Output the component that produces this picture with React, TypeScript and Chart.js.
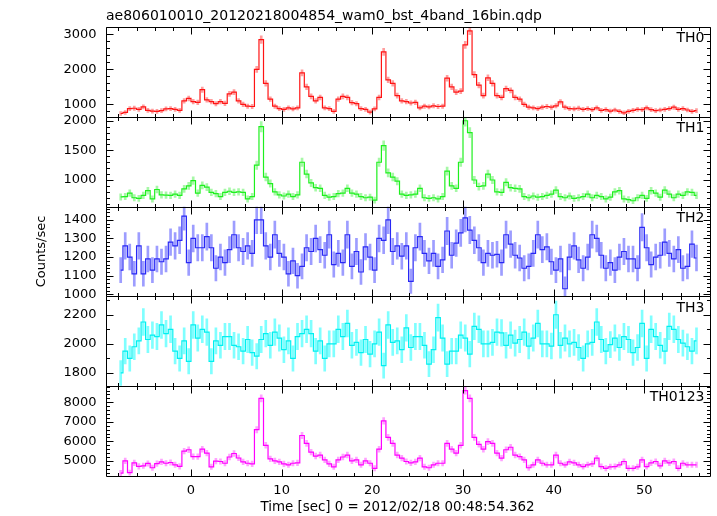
import React, { useEffect, useRef } from "react";
import { Chart, registerables } from "chart.js";

Chart.register(...registerables);

const TITLE = "ae806010010_20120218004854_wam0_bst_4band_16bin.qdp";
const X_TITLE = "Time [sec] 0 = 2012/02/18 00:48:54.362";
const Y_TITLE = "Counts/sec";

const BIN_START = -7.75;
const BIN_WIDTH = 0.5;
const ERR_DT = 0.25;

const TH0 = [
  740, 770, 880, 890, 860, 930, 830, 810, 800, 820,
  870, 880, 860, 830, 1100, 1170, 1080, 1060, 1420, 1130,
  1080, 1020, 1080, 1030, 1300, 1350, 1100, 1000, 950, 940,
  2000, 2850, 1600, 1150, 950, 880, 860, 900, 870, 900,
  1900, 1500, 1230, 1100, 1200, 900, 880, 800, 1150, 1230,
  1200, 1050, 1020, 880, 860, 780, 870, 1200, 2500, 1700,
  1600, 1250, 1100, 1080, 1040, 1060, 900, 950, 930, 960,
  940, 950, 1750, 1500, 1350, 1380, 2700, 3100, 1850, 1550,
  1250, 1760, 1600, 1250, 1200, 1450, 1400, 1200, 1150, 1000,
  920, 900, 880, 920, 940, 920, 960, 1070, 920, 880,
  870, 890, 860, 880, 850, 900, 830, 850, 810, 840,
  800, 760, 800, 830, 860, 850, 900, 850, 820, 840,
  860, 880, 920, 860, 880, 840, 800, 820,
];

const TH1 = [
  715, 720, 780, 700, 690, 740, 820, 680, 840, 750,
  745, 740, 760, 740, 850, 900, 990, 780, 910, 880,
  790, 770, 720, 790, 810, 790, 800, 790, 680, 720,
  1250, 1900, 1050, 940, 800, 750, 730, 760, 720, 750,
  1300, 1100, 950, 870, 860, 740, 710, 720, 770, 780,
  860, 780, 760, 720, 700, 710, 660, 1300, 1580, 1120,
  1050, 980, 760, 740, 750, 760, 860, 700, 690, 700,
  680, 720, 1150, 900, 860, 1300, 2000, 1800, 1000, 890,
  900, 1100, 1000, 800, 790, 960, 870, 860, 850, 720,
  700, 730, 710, 720, 740, 760, 830, 720, 700, 730,
  690, 700, 720, 760, 700, 740, 720, 680, 710, 800,
  820, 680, 670, 650, 700, 740, 690, 820, 780, 710,
  830, 760, 700, 760, 740, 800, 790, 740,
];

const TH2 = [
  1130, 1260, 1200, 1110, 1260, 1110, 1190, 1130, 1190, 1175,
  1190, 1280, 1260, 1290, 1420, 1170, 1300, 1250, 1250, 1310,
  1250, 1140, 1200, 1170, 1240, 1320, 1250, 1230, 1260, 1220,
  1400, 1400, 1260, 1200, 1320, 1220, 1200, 1110, 1180, 1100,
  1150, 1250, 1230, 1300, 1240, 1210, 1320, 1160, 1220, 1170,
  1320, 1150, 1230, 1120, 1255, 1200, 1130, 1300, 1290, 1400,
  1230, 1260, 1205, 1260, 1070, 1250, 1310, 1220, 1180, 1220,
  1150, 1185, 1340, 1210, 1275, 1330, 1410, 1345, 1290, 1250,
  1170, 1220, 1210, 1215, 1170, 1320, 1270, 1210, 1195, 1140,
  1150, 1220, 1320, 1240, 1255, 1175, 1130, 1190, 1030, 1200,
  1260, 1185, 1140, 1200, 1320, 1300, 1210, 1140, 1170, 1130,
  1200, 1230, 1190, 1190, 1140, 1360, 1250, 1160, 1200, 1210,
  1280, 1220, 1190, 1240, 1140, 1150, 1270, 1195,
];

const TH3 = [
  1800, 1950, 1900, 1980, 2020, 2150, 2030, 2060, 2050, 2130,
  2070, 2100, 1950, 1900, 2020, 1880, 2130, 2040, 2100, 2080,
  1880, 2020, 1990, 2050, 2050, 1990, 1980, 1950, 2030, 1940,
  1915, 2030, 2070, 1990, 2080, 2040, 1960, 2020, 1900, 2050,
  2070, 2100, 2070, 1950, 2020, 1900, 2000, 2000, 2100, 2050,
  2140, 1990, 2010, 1940, 2030, 1930, 2000, 2080, 1850, 2130,
  2010, 2020, 1960, 2110, 1975, 2050, 2050, 1990, 1860, 1960,
  2180, 2040, 1860, 1950, 1950, 2060, 2040, 1930, 2120, 2100,
  2000, 2000, 2010, 2080, 2075, 1990, 2060, 2005, 2030, 2080,
  1985, 2040, 2140, 2000, 2000, 1985, 2200, 1990, 2040, 2000,
  2010, 1975, 1900, 2000, 2010, 2150, 2030, 1950, 1995, 2040,
  1975, 2050, 2030, 1940, 1975, 2140, 1900, 2100, 2050, 1990,
  1950, 2120, 2100, 2030, 2005, 1980, 1950, 2020,
];

const TH0123 = [
  4380, 5000, 4400, 4900, 4720, 4750, 4870, 4650, 4860, 4950,
  4880, 4920, 4800, 4720, 5500, 5570, 5220, 5220, 5600, 5400,
  4700, 4990, 4970, 4880, 5200, 5380, 5150, 4950, 4880, 4850,
  6600, 8200, 5800, 5100, 5000, 4950, 4850, 4800, 4880, 4900,
  6300, 5900, 5450, 5250, 5300, 5050, 4850, 4700, 5050, 5200,
  5300, 5000, 5050, 4800, 5000, 4880, 4620, 5600, 7050, 6200,
  5900, 5300, 5140, 4970, 4900, 4950, 5140, 4700, 4650, 4800,
  4880, 4880, 5900, 5600, 5400, 5800, 8600, 8200, 6200, 5850,
  5600, 5990, 5900, 5400, 5140, 5570, 5700, 5300, 5220, 5050,
  4650, 4800, 5050, 4880, 4800, 4800, 5300, 4880, 4800, 4950,
  4900, 4800, 4710, 4800, 4850, 5140, 4710, 4620, 4700, 4710,
  4800, 4970, 4620, 4620, 4700, 5050, 4710, 4900, 4970, 4750,
  5000, 4900, 4970, 4620, 4880, 4800, 4800, 4800,
];

const X_TICKS = [0, 10, 20, 30, 40, 50];
const TH0_TICKS = [1000, 2000, 3000];
const TH1_TICKS = [1000, 1500, 2000];
const TH2_TICKS = [1000, 1100, 1200, 1300, 1400];
const TH3_TICKS = [1800, 2000, 2200];
const TH0123_TICKS = [5000, 6000, 7000, 8000];

const FONT = "'DejaVu Sans', 'Liberation Sans', Arial, sans-serif";

// bottom panel first (Chart.js stacks later-defined left axes on top)
const PANELS = [
  { id: "yTH0123", name: "TH0123", values: TH0123, ticks: TH0123_TICKS, minor: 200, min: 4228, max: 8823, line: "rgb(255,0,255)", err: "rgba(255,50,255,0.45)" },
  { id: "yTH3", name: "TH3", values: TH3, ticks: TH3_TICKS, minor: 100, min: 1709, max: 2326, line: "rgb(0,240,240)", err: "rgba(0,255,255,0.5)" },
  { id: "yTH2", name: "TH2", values: TH2, ticks: TH2_TICKS, minor: 20, min: 989, max: 1471, line: "rgb(40,40,245)", err: "rgba(60,60,255,0.5)" },
  { id: "yTH1", name: "TH1", values: TH1, ticks: TH1_TICKS, minor: 100, min: 551, max: 2067, line: "rgb(30,240,30)", err: "rgba(60,240,60,0.45)" },
  { id: "yTH0", name: "TH0", values: TH0, ticks: TH0_TICKS, minor: 200, min: 646, max: 3211, line: "rgb(255,20,20)", err: "rgba(255,40,40,0.45)" },
];

const X_MIN = -9.37;
const X_MAX = 57.35;
const X_MINOR_START = -8;
const X_MINOR_STEP = 2;
const MAJOR_LEN = 7;
const MINOR_LEN = 3.5;

const framePlugin = {
  id: "qdpFrame",
  beforeDatasetDraw(chart: any, args: any) {
    const ys = args.meta.yScale;
    const { ctx, chartArea } = chart;
    ctx.save();
    ctx.beginPath();
    ctx.rect(chartArea.left, ys.top, chartArea.right - chartArea.left, ys.bottom - ys.top);
    ctx.clip();
  },
  afterDatasetDraw(chart: any) {
    chart.ctx.restore();
  },
  afterDraw(chart: any) {
    const { ctx, chartArea } = chart;
    const xs = chart.scales.x;
    const L = Math.round(chartArea.left) + 0.5;
    const R = Math.round(chartArea.right) - 0.5;
    ctx.save();
    ctx.strokeStyle = "#000";
    ctx.lineWidth = 1;
    PANELS.forEach((p) => {
      const ys = chart.scales[p.id];
      const T = Math.round(ys.top) + 0.5;
      const B = Math.round(ys.bottom) + 0.5;
      ctx.beginPath();
      ctx.rect(L, T, R - L, B - T);
      const start = Math.ceil(ys.min / p.minor) * p.minor;
      for (let v = start; v <= ys.max + 1e-9; v += p.minor) {
        const y = Math.round(ys.getPixelForValue(v)) + 0.5;
        const major = p.ticks.some((m) => Math.abs(m - v) < 1e-6);
        const len = major ? MAJOR_LEN : MINOR_LEN;
        ctx.moveTo(L, y);
        ctx.lineTo(L + len, y);
        ctx.moveTo(R, y);
        ctx.lineTo(R - len, y);
      }
      for (let t = X_MINOR_START; t <= xs.max; t += X_MINOR_STEP) {
        const x = Math.round(xs.getPixelForValue(t)) + 0.5;
        const major = X_TICKS.includes(t);
        const len = major ? MAJOR_LEN : MINOR_LEN;
        ctx.moveTo(x, T);
        ctx.lineTo(x, T + len);
        ctx.moveTo(x, B);
        ctx.lineTo(x, B - len);
      }
      ctx.stroke();
      ctx.fillStyle = "#000";
      ctx.font = "14px " + FONT;
      ctx.textAlign = "right";
      ctx.textBaseline = "alphabetic";
      ctx.fillText(p.name, 704.5, ys.top + 15.2);
    });
    ctx.fillStyle = "#000";
    ctx.font = "14px " + FONT;
    ctx.textAlign = "left";
    ctx.textBaseline = "alphabetic";
    ctx.fillText(TITLE, 106, 19.5);
    ctx.font = "13.4px " + FONT;
    ctx.textAlign = "center";
    ctx.fillText(X_TITLE, 397.5, 511);
    ctx.restore();
  },
};

export default function App() {
  const ref = useRef<HTMLCanvasElement>(null);

  useEffect(() => {
    const canvas = ref.current;
    if (!canvas) return;
    const times = TH0.map((_, i) => BIN_START + BIN_WIDTH * i);
    const datasets: any[] = [];
    PANELS.forEach((p) => {
      datasets.push({
        type: "line",
        label: p.name,
        xAxisID: "x",
        yAxisID: p.id,
        data: p.values.map((v, i) => ({ x: times[i], y: v })),
        borderColor: p.line,
        borderWidth: 1.2,
        pointRadius: 0,
        stepped: "middle",
        fill: false,
        order: 0,
      });
      datasets.push({
        type: "bar",
        label: p.name + " error",
        xAxisID: "x",
        yAxisID: p.id,
        data: p.values.map((v, i) => {
          const e = Math.sqrt(v / ERR_DT);
          return { x: times[i], y: [v - e, v + e] };
        }),
        backgroundColor: p.err,
        borderWidth: 0,
        barThickness: 2,
        grouped: false,
        order: 1,
      });
    });

    const tickFont = { family: FONT, size: 13 };
    const scales: any = {
      x: {
        type: "linear",
        position: "bottom",
        min: X_MIN,
        max: X_MAX,
        offset: false,
        grid: { display: false, drawTicks: false },
        border: { display: false },
        afterBuildTicks: (s: any) => {
          s.ticks = X_TICKS.map((v) => ({ value: v }));
        },
        afterFit: (s: any) => {
          s.height = 40;
        },
        ticks: {
          font: tickFont,
          color: "#000",
          padding: 7,
          autoSkip: false,
          maxRotation: 0,
          callback: (v: any) => String(v),
        },
      },
    };
    PANELS.forEach((p) => {
      scales[p.id] = {
        type: "linear",
        position: "left",
        stack: "panels",
        stackWeight: 1,
        min: p.min,
        max: p.max,
        grid: { display: false, drawTicks: false },
        border: { display: false },
        afterBuildTicks: (s: any) => {
          s.ticks = p.ticks.map((v) => ({ value: v }));
        },
        afterFit: (s: any) => {
          s.width = 106;
        },
        ticks: {
          font: tickFont,
          color: "#000",
          padding: 9.5,
          autoSkip: false,
          callback: (v: any) => String(v),
        },
        title: {
          display: p.id === "yTH2",
          text: Y_TITLE,
          color: "#000",
          font: { family: FONT, size: 13 },
          padding: { top: 33.5, bottom: 0 },
        },
      };
    });

    const chart = new Chart(canvas, {
      type: "line",
      data: { datasets },
      options: {
        responsive: false,
        maintainAspectRatio: false,
        animation: false,
        events: [],
        layout: { padding: { top: 27, right: 6, left: 0, bottom: 0 } },
        plugins: {
          legend: { display: false },
          tooltip: { enabled: false },
          title: { display: false },
        },
        scales,
      } as any,
      plugins: [framePlugin],
    });
    return () => chart.destroy();
  }, []);

  return (
    <div style={{ position: "fixed", left: 0, top: 0, width: 717, height: 516, background: "#fff" }}>
      <canvas ref={ref} width={717} height={516} style={{ display: "block" }} />
    </div>
  );
}
